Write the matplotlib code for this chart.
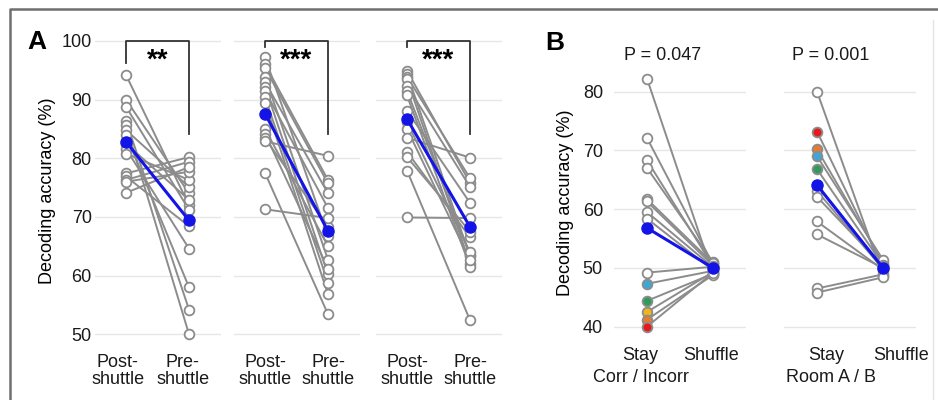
import matplotlib
matplotlib.use("Agg")
import matplotlib.pyplot as plt
from matplotlib.lines import Line2D

plt.rcParams['font.family'] = ['Liberation Sans', 'DejaVu Sans']

# Panel A: post- vs pre-shuttle decoding accuracy (%), three groups, paired subjects
a1_post = [94.2, 90.0, 88.8, 86.4, 85.6, 84.8, 84.0, 82.5, 81.6, 80.8, 77.4, 76.9, 76.3, 76.0, 74.1]
a1_pre = [72.0, 74.0, 71.2, 54.2, 50.0, 75.1, 58.0, 72.9, 64.6, 76.3, 80.2, 68.4, 79.4, 77.7, 78.5]
a2_post = [97.2, 96.0, 95.4, 93.9, 93.0, 92.2, 91.5, 90.4, 89.5, 85.0, 84.2, 83.4, 82.9, 77.5, 71.3]
a2_pre = [66.7, 76.3, 75.7, 62.7, 74.0, 60.2, 71.5, 58.8, 56.8, 65.0, 61.2, 68.3, 80.4, 53.4, 69.8]
a3_post = [94.9, 94.4, 93.9, 93.5, 92.4, 91.5, 90.7, 88.1, 86.2, 85.0, 83.5, 81.1, 80.2, 77.9, 69.9]
a3_pre = [75.8, 63.3, 76.6, 62.0, 75.1, 63.5, 61.5, 72.4, 64.0, 62.6, 80.1, 66.5, 67.5, 52.4, 69.8]
a_mean_post = [82.8, 87.6, 86.7]
a_mean_pre = [69.4, 67.6, 68.3]
a_stars = ['**', '***', '***']
a_labels = ['Post-\nshuttle', 'Pre-\nshuttle']

# Panel B: stay vs shuffle
b1_stay = [82.2, 72.1, 68.3, 67.0, 61.7, 61.3, 59.5, 58.4, 49.2, 47.3, 44.4, 42.5, 41.2, 40.0]
b1_shuf = [48.9, 50.6, 50.3, 51.0, 50.8, 50.4, 50.1, 49.6, 50.2, 49.5, 49.0, 49.3, 48.8, 49.2]
b1_color = [None] * 9 + ['#3ea7d6', '#2f9c5c', '#f0b41c', '#e97a2e', '#e8191c']
b2_stay = [80.0, 73.2, 70.2, 69.0, 66.8, 63.1, 62.1, 57.9, 55.7, 46.5, 45.8]
b2_shuf = [48.6, 50.2, 50.9, 51.4, 50.5, 49.8, 50.3, 49.7, 50.0, 48.9, 48.4]
b2_color = [None, '#e8191c', '#e97a2e', '#3ea7d6', '#2f9c5c', None, None, None, None, None, None]
b_mean_stay = [56.8, 64.1]
b_mean_shuf = [50.0, 50.0]
b_pvals = ['P = 0.047', 'P = 0.001']
b_names = ['Corr / Incorr', 'Room A / B']

GRAY = '#8c8c8c'
BLUE = '#1414e6'
W, H = 938, 400

fig = plt.figure(figsize=(9.38, 4.0), dpi=100)


def px_axes(left, top, width, height):
    return fig.add_axes([left / W, 1 - (top + height) / H, width / W, height / H])


def style(ax, ylim, yticks, show_y):
    ax.set_xlim(-0.5, 1.5)
    ax.set_ylim(*ylim)
    ax.set_yticks(yticks)
    ax.yaxis.grid(True, color='#e6e6e6', lw=1)
    ax.set_axisbelow(True)
    for s in ax.spines.values():
        s.set_visible(False)
    ax.tick_params(length=0, labelsize=13, colors='#1a1a1a')
    if not show_y:
        ax.set_yticklabels([])


def pairs(ax, left_vals, right_vals, colors=None):
    for l, r in zip(left_vals, right_vals):
        ax.plot([0, 1], [l, r], color=GRAY, lw=1.4, zorder=2)
        ax.plot([1], [r], 'o', ms=7, mfc='white', mec=GRAY, mew=1.3, zorder=3)
    for i, l in enumerate(left_vals):
        c = colors[i] if colors else None
        ax.plot([0], [l], 'o', ms=7, mfc=c if c else 'white', mec=GRAY, mew=1.3,
                zorder=4 if c else 3)


# ---- panel A
a_left = [94.5, 233.5, 375.5]
a_data = [(a1_post, a1_pre), (a2_post, a2_pre), (a3_post, a3_pre)]
a_lab_x = [(-0.13, 0.9), (0, 1), (0, 1)]
for k in range(3):
    ax = px_axes(a_left[k], 38, 126, 305)
    style(ax, (48.5, 100.5), [50, 60, 70, 80, 90, 100], k == 0)
    post, pre = a_data[k]
    pairs(ax, post, pre)
    ax.plot([0, 1], [a_mean_post[k], a_mean_pre[k]], '-o', color=BLUE, lw=2.2, ms=8, zorder=5)
    ax.set_xticks(a_lab_x[k])
    ax.set_xticklabels(a_labels, fontsize=13, linespacing=1.0)
    ax.tick_params(axis='x', pad=8)
    ax.tick_params(axis='y', pad=2)
    top_left = 96.2 if k == 0 else 98.9
    ax.plot([0, 0, 1, 1], [top_left, 100, 100, 84.2], color='#333333', lw=1.3, clip_on=False)
    ax.text(0.5, 96.7, a_stars[k], ha='center', va='center', fontsize=20, fontweight='bold')
    if k == 0:
        ax.set_ylabel('Decoding accuracy (%)', fontsize=13, labelpad=4)

# ---- panel B
b_left = [614, 784]
b_data = [(b1_stay, b1_shuf, b1_color), (b2_stay, b2_shuf, b2_color)]
b_lab_x = [(-0.1, 0.97), (0.14, 1.27)]
b_name_x = [-0.09, 0.21]
b_p_x = [0.23, 0.21]
for k in range(2):
    ax = px_axes(b_left[k], 71, 132, 264.5)
    style(ax, (38.5, 83.5), [40, 50, 60, 70, 80], k == 0)
    stay, shuf, cols = b_data[k]
    pairs(ax, stay, shuf, cols)
    ax.plot([0, 1], [b_mean_stay[k], b_mean_shuf[k]], '-o', color=BLUE, lw=2.2, ms=8, zorder=5)
    ax.set_xticks(b_lab_x[k])
    ax.set_xticklabels(['Stay', 'Shuffle'], fontsize=13)
    ax.tick_params(axis='x', pad=8)
    ax.tick_params(axis='y', pad=8)
    ax.text(b_name_x[k], -0.16, b_names[k], transform=ax.get_xaxis_transform(),
            ha='center', va='center', fontsize=13, color='#1a1a1a')
    ax.text(b_p_x[k], 86.1, b_pvals[k], ha='center', va='center', fontsize=13,
            color='#1a1a1a', clip_on=False)
    if k == 0:
        ax.set_ylabel('Decoding accuracy (%)', fontsize=13, labelpad=6)

fig.text(37 / W, 1 - 42 / H, 'A', fontsize=19, fontweight='bold', ha='center', va='center')
fig.text(555 / W, 1 - 43 / H, 'B', fontsize=19, fontweight='bold', ha='center', va='center')

# outer frame: left and top edges, faint right edge
fig.add_artist(Line2D([10 / W, 10 / W, 1], [0, 1 - 8.5 / H, 1 - 8.5 / H],
                      transform=fig.transFigure, color='#6e6e6e', lw=1.8))
fig.add_artist(Line2D([933 / W, 933 / W], [0, 1 - 20 / H],
                      transform=fig.transFigure, color='#e4e4e4', lw=1))

fig.savefig('out.png', dpi=100)
